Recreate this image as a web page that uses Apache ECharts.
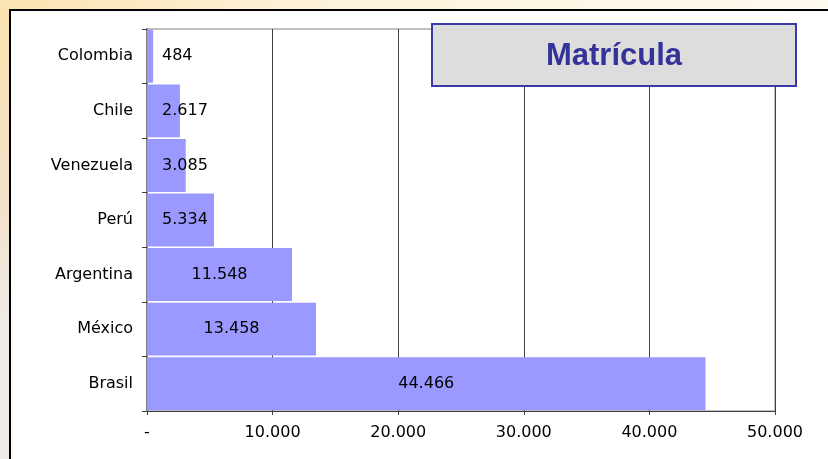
<!DOCTYPE html>
<html>
<head>
<meta charset="utf-8">
<script src="https://cdn.jsdelivr.net/npm/echarts@6/dist/echarts.min.js"></script>
<style>
html,body{margin:0;padding:0;background:#efece8;}
#chart{width:828px;height:459px;}
</style>
</head>
<body>
<div id="chart"></div>
<script>
const categories = ['Brasil', 'México', 'Argentina', 'Perú', 'Venezuela', 'Chile', 'Colombia'];
const matricula = [44466, 13458, 11548, 5334, 3085, 2617, 484];
const xTicks = [0, 10000, 20000, 30000, 40000, 50000];
const titleText = 'Matrícula';

function fmt(v) {
  if (v === 0) return '-';
  return String(v).replace(/\B(?=(\d{3})+(?!\d))/g, '.');
}

const FONT = '"DejaVu Sans", Verdana, sans-serif';
const chart = echarts.init(document.getElementById('chart'));
chart.setOption({
  animation: false,
  backgroundColor: 'transparent',
  textStyle: { fontFamily: FONT },
  graphic: [
    { type: 'rect', z: -10, silent: true, shape: { x: 0, y: 0, width: 828, height: 459 },
      style: { fill: new echarts.graphic.LinearGradient(0, 0, 0, 1, [
        { offset: 0, color: '#fbe3ae' }, { offset: 0.45, color: '#f3e2cb' }, { offset: 0.7, color: '#eeebe8' }, { offset: 1, color: '#eeebe8' }]) } },
    { type: 'rect', z: -9, silent: true, shape: { x: 0, y: 0, width: 828, height: 9 },
      style: { fill: new echarts.graphic.LinearGradient(0, 0, 1, 0, [
        { offset: 0, color: '#fbe4b2' }, { offset: 0.4, color: '#fdf3dc' }, { offset: 1, color: '#fffaf0' }]) } },
    { type: 'rect', z: -8, silent: true, shape: { x: 10, y: 10, width: 830, height: 460 },
      style: { fill: '#ffffff', stroke: '#000000', lineWidth: 2 } },
    { type: 'rect', z: 10, silent: true, shape: { x: 432, y: 24, width: 364, height: 62 },
      style: { fill: '#dddddd', stroke: '#3a3aa6', lineWidth: 2 } },
    { type: 'text', z: 11, silent: true, x: 614, y: 56,
      style: { text: titleText, fill: '#333399', font: 'bold 31px "Liberation Sans", Arial, sans-serif', align: 'center', verticalAlign: 'middle' } }
  ],
  grid: { left: 147, right: 53, top: 29, bottom: 48, show: true, borderColor: '#808080', borderWidth: 1, backgroundColor: 'transparent' },
  xAxis: {
    type: 'value', min: 0, max: 50000, interval: 10000,
    axisLine: { show: true, lineStyle: { color: '#404040', width: 1 } },
    axisTick: { show: true, length: 4, lineStyle: { color: '#404040' } },
    splitLine: { show: true, lineStyle: { color: '#404040', width: 1 } },
    axisLabel: { color: '#000', fontSize: 16, margin: 14, fontFamily: FONT, formatter: fmt }
  },
  yAxis: {
    type: 'category', data: categories,
    axisLine: { show: true, lineStyle: { color: '#808080', width: 2 } },
    axisTick: { show: true, length: 5, lineStyle: { color: '#404040' } },
    axisLabel: { color: '#000', fontSize: 16, margin: 14, fontFamily: FONT }
  },
  series: [{
    type: 'bar',
    data: matricula.map(v => ({
      value: v,
      label: v < 6000 ? { position: 'insideLeft', distance: 15 } : { position: 'inside' }
    })),
    barCategoryGap: '3%',
    itemStyle: { color: '#9999ff' },
    label: { show: true, color: '#000', fontSize: 16, fontFamily: FONT, formatter: p => fmt(p.value) }
  }]
});
</script>
</body>
</html>
